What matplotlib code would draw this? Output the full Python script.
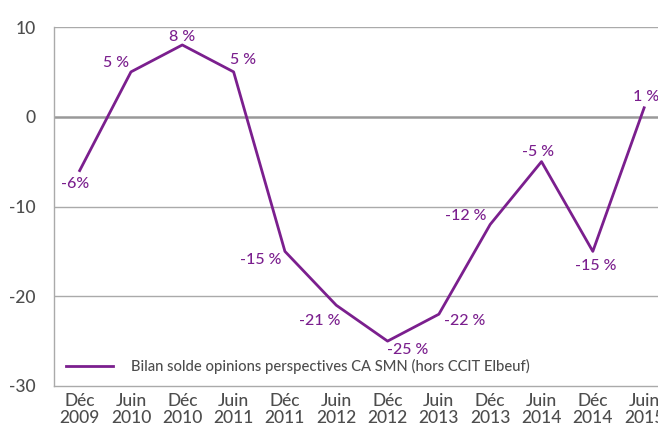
import matplotlib
matplotlib.use("Agg")
import matplotlib.pyplot as plt

# ---- data ----------------------------------------------------------------
periods = ["Déc\n2009", "Juin\n2010", "Déc\n2010", "Juin\n2011", "Déc\n2011",
           "Juin\n2012", "Déc\n2012", "Juin\n2013", "Déc\n2013", "Juin\n2014",
           "Déc\n2014", "Juin\n2015"]
solde = [-6, 5, 8, 5, -15, -21, -25, -22, -12, -5, -15, 1]
value_labels = ["-6%", "5 %", "8 %", "5 %", "-15 %", "-21 %", "-25 %",
                "-22 %", "-12 %", "-5 %", "-15 %", "1 %"]
series_name = "Bilan solde opinions perspectives CA SMN (hors CCIT Elbeuf)"
y_ticks = [10, 0, -10, -20, -30]

# label offsets (pixels) relative to each point
label_offsets = [(-5, -13), (-15, 9), (0, 8), (9, 12), (-24, -9), (-17, -16),
                 (20, -9), (26, -7), (-25, 8), (-4, 10), (3, -15), (2, 11)]

PURPLE = "#7b1f8e"
GREY_TXT = "#4d4d4d"

plt.rcParams["font.family"] = ["Lato", "DejaVu Sans"]
plt.rcParams["axes.unicode_minus"] = False

fig = plt.figure(figsize=(6.58, 4.30), dpi=100)
ax = fig.add_axes([54 / 658, 1 - 386 / 430, 1 - 54 / 658, (386 - 27) / 430])

x = list(range(len(solde)))

# grid
for yv in [10, -10, -20]:
    ax.axhline(yv, color="#aaaaaa", lw=1.0, zorder=1)
ax.axhline(0, color="#999999", lw=1.8, zorder=1)

ax.plot(x, solde, color=PURPLE, lw=2.0, zorder=3, label=series_name)

for xi, yi, txt, (dx, dy) in zip(x, solde, value_labels, label_offsets):
    ax.annotate(txt, (xi, yi), xytext=(dx, dy), textcoords="offset pixels",
                ha="center", va="center", color=PURPLE, fontsize=11.5,
                fontweight="medium", zorder=4, annotation_clip=False)

ax.set_xlim(-0.5, 11.27)
ax.set_ylim(-30, 10)
ax.set_yticks(y_ticks)
ax.set_xticks(x)
ax.set_xticklabels(periods, fontsize=12.5, color=GREY_TXT, linespacing=1.05,
                   fontweight="medium")
for lab in ax.get_yticklabels():
    lab.set_fontweight("medium")
ax.tick_params(axis="y", labelsize=12.5, labelcolor=GREY_TXT, length=0, pad=13)
ax.tick_params(axis="x", length=0, pad=5)

for side in ["top", "right"]:
    ax.spines[side].set_visible(False)
for side in ["left", "bottom"]:
    ax.spines[side].set_color("#aaaaaa")
    ax.spines[side].set_linewidth(1.0)

leg = ax.legend(loc="lower left", bbox_to_anchor=(0.0, 0.0), frameon=False,
                fontsize=10.6, handlelength=3.2, handletextpad=1.2,
                borderaxespad=0.4)
for t in leg.get_texts():
    t.set_color(GREY_TXT)
    t.set_fontweight("medium")

fig.savefig("out.png", dpi=100)
